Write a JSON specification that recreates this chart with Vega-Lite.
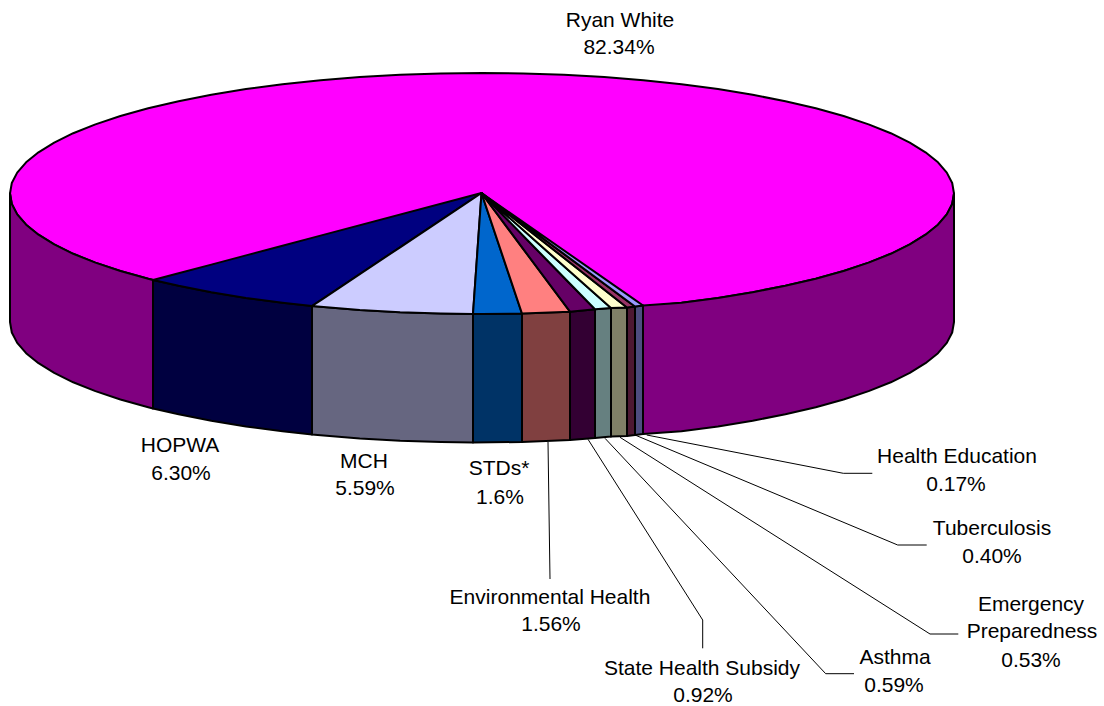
{"$schema":"https://vega.github.io/schema/vega-lite/v6.json","width":1104,"height":706,"padding":0,"autosize":{"type":"none"},"background":"white","view":{"stroke":null},
"datasets":{
"parts":[
{"p":"Ryan White top","x":10,"y":193.5,"y2":193.5},{"p":"Ryan White top","x":11.8,"y":183,"y2":204},{"p":"Ryan White top","x":17.2,"y":172.6,"y2":214.4},{"p":"Ryan White top","x":26.1,"y":162.3,"y2":224.7},{"p":"Ryan White top","x":38.5,"y":152.3,"y2":234.7},{"p":"Ryan White top","x":54.2,"y":142.6,"y2":244.4},{"p":"Ryan White top","x":73.2,"y":133.2,"y2":253.8},{"p":"Ryan White top","x":95.4,"y":124.4,"y2":262.6},{"p":"Ryan White top","x":120.4,"y":116,"y2":271},{"p":"Ryan White top","x":148.2,"y":108.3,"y2":278.7},{"p":"Ryan White top","x":178.6,"y":101.2,"y2":285.8},{"p":"Ryan White top","x":211.3,"y":94.8,"y2":292.2},{"p":"Ryan White top","x":246,"y":89.1,"y2":297.9},{"p":"Ryan White top","x":282.5,"y":84.3,"y2":302.7},{"p":"Ryan White top","x":320.6,"y":80.3,"y2":306.7},{"p":"Ryan White top","x":359.8,"y":77.1,"y2":309.9},{"p":"Ryan White top","x":400.1,"y":74.8,"y2":312.2},{"p":"Ryan White top","x":440.9,"y":73.5,"y2":313.5},{"p":"Ryan White top","x":482,"y":73,"y2":314},{"p":"Ryan White top","x":523.1,"y":73.5,"y2":313.5},{"p":"Ryan White top","x":563.9,"y":74.8,"y2":312.2},{"p":"Ryan White top","x":604.2,"y":77.1,"y2":309.9},{"p":"Ryan White top","x":643.4,"y":80.3,"y2":306.7},{"p":"Ryan White top","x":681.5,"y":84.3,"y2":302.7},{"p":"Ryan White top","x":718,"y":89.1,"y2":297.9},{"p":"Ryan White top","x":752.7,"y":94.8,"y2":292.2},{"p":"Ryan White top","x":785.4,"y":101.2,"y2":285.8},{"p":"Ryan White top","x":815.8,"y":108.3,"y2":278.7},{"p":"Ryan White top","x":843.6,"y":116,"y2":271},{"p":"Ryan White top","x":868.6,"y":124.4,"y2":262.6},{"p":"Ryan White top","x":890.8,"y":133.2,"y2":253.8},{"p":"Ryan White top","x":909.8,"y":142.6,"y2":244.4},{"p":"Ryan White top","x":925.5,"y":152.3,"y2":234.7},{"p":"Ryan White top","x":938,"y":162.3,"y2":224.7},{"p":"Ryan White top","x":946.8,"y":172.6,"y2":214.4},{"p":"Ryan White top","x":952.2,"y":183,"y2":204},{"p":"Ryan White top","x":954,"y":193.5,"y2":193.5},
{"p":"Ryan White wall left","x":10,"y":193.5,"y2":322},{"p":"Ryan White wall left","x":11.8,"y":204,"y2":332.5},{"p":"Ryan White wall left","x":17.2,"y":214.4,"y2":342.9},{"p":"Ryan White wall left","x":26.1,"y":224.7,"y2":353.2},{"p":"Ryan White wall left","x":38.5,"y":234.7,"y2":363.2},{"p":"Ryan White wall left","x":54.2,"y":244.4,"y2":372.9},{"p":"Ryan White wall left","x":73.2,"y":253.8,"y2":382.3},{"p":"Ryan White wall left","x":95.4,"y":262.6,"y2":391.1},{"p":"Ryan White wall left","x":120.4,"y":271,"y2":399.5},{"p":"Ryan White wall left","x":148.2,"y":278.7,"y2":407.2},{"p":"Ryan White wall left","x":153,"y":280,"y2":408.5},
{"p":"HOPWA wall","x":153,"y":280,"y2":408.5},{"p":"HOPWA wall","x":178.6,"y":285.8,"y2":414.3},{"p":"HOPWA wall","x":211.3,"y":292.2,"y2":420.7},{"p":"HOPWA wall","x":246,"y":297.9,"y2":426.4},{"p":"HOPWA wall","x":282.5,"y":302.7,"y2":431.2},{"p":"HOPWA wall","x":312,"y":306,"y2":434.5},
{"p":"MCH wall","x":312,"y":306,"y2":434.5},{"p":"MCH wall","x":320.6,"y":306.7,"y2":435.2},{"p":"MCH wall","x":359.8,"y":309.9,"y2":438.4},{"p":"MCH wall","x":400.1,"y":312.2,"y2":440.7},{"p":"MCH wall","x":440.9,"y":313.5,"y2":442},{"p":"MCH wall","x":473,"y":314,"y2":442.5},
{"p":"STDs wall","x":473,"y":314,"y2":442.5},{"p":"STDs wall","x":522,"y":313.6,"y2":442},
{"p":"Environmental Health wall","x":522,"y":313.6,"y2":442},{"p":"Environmental Health wall","x":570,"y":311.7,"y2":440},
{"p":"State Health Subsidy wall","x":570,"y":311.7,"y2":440},{"p":"State Health Subsidy wall","x":595,"y":309.3,"y2":438},
{"p":"Asthma wall","x":595,"y":309.3,"y2":438},{"p":"Asthma wall","x":611,"y":308,"y2":436.6},
{"p":"Emergency Preparedness wall","x":611,"y":308,"y2":436.6},{"p":"Emergency Preparedness wall","x":627,"y":307.5,"y2":436},
{"p":"Tuberculosis wall","x":627,"y":307.5,"y2":436},{"p":"Tuberculosis wall","x":635,"y":306.5,"y2":435},
{"p":"Health Education wall","x":635,"y":306.5,"y2":435},{"p":"Health Education wall","x":643,"y":305.5,"y2":434},
{"p":"Ryan White wall right","x":643,"y":305.5,"y2":434},{"p":"Ryan White wall right","x":681.5,"y":302.7,"y2":431.2},{"p":"Ryan White wall right","x":718,"y":297.9,"y2":426.4},{"p":"Ryan White wall right","x":752.7,"y":292.2,"y2":420.7},{"p":"Ryan White wall right","x":785.4,"y":285.8,"y2":414.3},{"p":"Ryan White wall right","x":815.8,"y":278.7,"y2":407.2},{"p":"Ryan White wall right","x":843.6,"y":271,"y2":399.5},{"p":"Ryan White wall right","x":868.6,"y":262.6,"y2":391.1},{"p":"Ryan White wall right","x":890.8,"y":253.8,"y2":382.3},{"p":"Ryan White wall right","x":909.8,"y":244.4,"y2":372.9},{"p":"Ryan White wall right","x":925.5,"y":234.7,"y2":363.2},{"p":"Ryan White wall right","x":938,"y":224.7,"y2":353.2},{"p":"Ryan White wall right","x":946.8,"y":214.4,"y2":342.9},{"p":"Ryan White wall right","x":952.2,"y":204,"y2":332.5},{"p":"Ryan White wall right","x":954,"y":193.5,"y2":322},
{"p":"HOPWA top","x":153,"y":280,"y2":280},{"p":"HOPWA top","x":178.6,"y":273.2,"y2":285.8},{"p":"HOPWA top","x":211.3,"y":264.6,"y2":292.2},{"p":"HOPWA top","x":246,"y":255.4,"y2":297.9},{"p":"HOPWA top","x":282.5,"y":245.7,"y2":302.7},{"p":"HOPWA top","x":312,"y":237.9,"y2":306},{"p":"HOPWA top","x":481.5,"y":193,"y2":193},
{"p":"MCH top","x":312,"y":306,"y2":306},{"p":"MCH top","x":320.6,"y":300.3,"y2":306.7},{"p":"MCH top","x":359.8,"y":274.1,"y2":309.9},{"p":"MCH top","x":400.1,"y":247.3,"y2":312.2},{"p":"MCH top","x":440.9,"y":220.1,"y2":313.5},{"p":"MCH top","x":473,"y":198.7,"y2":314},{"p":"MCH top","x":481.5,"y":193,"y2":193},
{"p":"STDs top","x":473,"y":314,"y2":314},{"p":"STDs top","x":481.5,"y":193,"y2":314},{"p":"STDs top","x":522,"y":313.6,"y2":313.6},
{"p":"Environmental Health top","x":481.5,"y":193,"y2":193},{"p":"Environmental Health top","x":522,"y":247.3,"y2":313.6},{"p":"Environmental Health top","x":570,"y":311.7,"y2":311.7},
{"p":"State Health Subsidy top","x":481.5,"y":193,"y2":193},{"p":"State Health Subsidy top","x":570,"y":283.7,"y2":311.7},{"p":"State Health Subsidy top","x":595,"y":309.3,"y2":309.3},
{"p":"Asthma top","x":481.5,"y":193,"y2":193},{"p":"Asthma top","x":595,"y":293.8,"y2":309.3},{"p":"Asthma top","x":611,"y":308,"y2":308},
{"p":"Emergency Preparedness top","x":481.5,"y":193,"y2":193},{"p":"Emergency Preparedness top","x":611,"y":294.9,"y2":308},{"p":"Emergency Preparedness top","x":627,"y":307.5,"y2":307.5},
{"p":"Tuberculosis top","x":481.5,"y":193,"y2":193},{"p":"Tuberculosis top","x":627,"y":300.6,"y2":307.5},{"p":"Tuberculosis top","x":635,"y":306.5,"y2":306.5},
{"p":"Health Education top","x":481.5,"y":193,"y2":193},{"p":"Health Education top","x":635,"y":299.9,"y2":306.5},{"p":"Health Education top","x":643,"y":305.5,"y2":305.5}
],
"leaders":[
{"k":"Environmental Health","x":548,"y":442},{"k":"Environmental Health","x":550,"y":579},
{"k":"State Health Subsidy","x":588,"y":439.3},{"k":"State Health Subsidy","x":702.7,"y":620},{"k":"State Health Subsidy","x":702.7,"y":648.3},
{"k":"Asthma","x":605,"y":438.3},{"k":"Asthma","x":825.7,"y":673.7},{"k":"Asthma","x":854,"y":673.7},
{"k":"Emergency Preparedness","x":620,"y":437.3},{"k":"Emergency Preparedness","x":930,"y":634},{"k":"Emergency Preparedness","x":958.3,"y":634},
{"k":"Tuberculosis","x":635,"y":435},{"k":"Tuberculosis","x":897.7,"y":545},{"k":"Tuberculosis","x":926.7,"y":545},
{"k":"Health Education","x":646.7,"y":435},{"k":"Health Education","x":843.3,"y":473.3},{"k":"Health Education","x":872.3,"y":473.3}
],
"labels":[
{"t":"Ryan White","x":620,"y":21},{"t":"82.34%","x":619,"y":48},
{"t":"HOPWA","x":180,"y":446},{"t":"6.30%","x":181,"y":474},
{"t":"MCH","x":364,"y":462},{"t":"5.59%","x":365,"y":489},
{"t":"STDs*","x":499,"y":469},{"t":"1.6%","x":500,"y":498},
{"t":"Environmental Health","x":550,"y":598},{"t":"1.56%","x":551,"y":625},
{"t":"State Health Subsidy","x":702,"y":669},{"t":"0.92%","x":703,"y":696},
{"t":"Asthma","x":895,"y":658},{"t":"0.59%","x":894,"y":686},
{"t":"Emergency","x":1031,"y":605},{"t":"Preparedness","x":1032,"y":632},{"t":"0.53%","x":1031,"y":661},
{"t":"Tuberculosis","x":992,"y":529},{"t":"0.40%","x":992,"y":557},
{"t":"Health Education","x":957,"y":457},{"t":"0.17%","x":956,"y":485}
]},
"layer":[
{"data":{"name":"parts"},"mark":{"type":"area","stroke":"black","strokeWidth":2,"strokeJoin":"round","interpolate":"linear"},
"encoding":{
"x":{"field":"x","type":"quantitative","scale":{"domain":[0,1104],"nice":false,"zero":false},"axis":null},
"y":{"field":"y","type":"quantitative","scale":{"domain":[706,0],"nice":false,"zero":false},"axis":null,"stack":null},
"y2":{"field":"y2"},
"color":{"field":"p","type":"nominal","legend":null,"scale":{
"domain":["Ryan White top","Ryan White wall left","Ryan White wall right","HOPWA top","HOPWA wall","MCH top","MCH wall","STDs top","STDs wall","Environmental Health top","Environmental Health wall","State Health Subsidy top","State Health Subsidy wall","Asthma top","Asthma wall","Emergency Preparedness top","Emergency Preparedness wall","Tuberculosis top","Tuberculosis wall","Health Education top","Health Education wall"],
"range":["#FF00FF","#800080","#800080","#000080","#000040","#CCCCFF","#666680","#0066CC","#003366","#FF8080","#804040","#660066","#330033","#CCFFFF","#668080","#FFFFCC","#808066","#993366","#4D1933","#9999FF","#4D4D80"]}}
}},
{"data":{"name":"leaders"},"mark":{"type":"line","color":"black","strokeWidth":1},
"encoding":{"x":{"field":"x","type":"quantitative","sort":null},"y":{"field":"y","type":"quantitative"},"detail":{"field":"k"}}},
{"data":{"name":"labels"},"mark":{"type":"text","font":"Liberation Sans","fontSize":21,"color":"black","align":"center","baseline":"middle"},
"encoding":{"x":{"field":"x","type":"quantitative"},"y":{"field":"y","type":"quantitative"},"text":{"field":"t","type":"nominal"}}}
]}
